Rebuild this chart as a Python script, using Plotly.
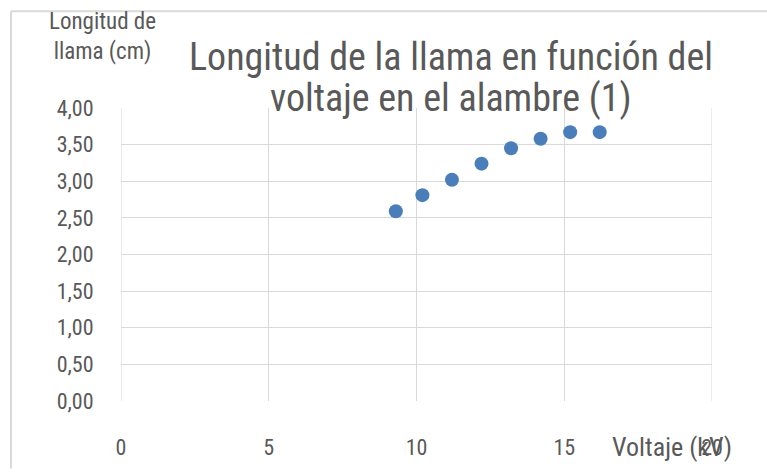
import plotly.graph_objects as go

# Flame length measured against the wire voltage
voltaje_kv = [9.3, 10.2, 11.2, 12.2, 13.2, 14.2, 15.2, 16.2]
longitud_cm = [2.59, 2.81, 3.02, 3.24, 3.45, 3.58, 3.67, 3.67]

x_ticks = [0, 5, 10, 15, 20]
y_ticks = [0, 0.5, 1.0, 1.5, 2.0, 2.5, 3.0, 3.5, 4.0]

title_lines = ["Longitud de la llama en función del", "voltaje en el alambre (1)"]

FONT = "Roboto Condensed"
TEXT = "#595959"
GRID = "#d9d9d9"
CLEAR = "rgba(0,0,0,0)"

# plot-area geometry in pixels
W, H = 767, 472
L, R, T, B = 121, 55, 108, 64
PW, PH = W - L - R, H - T - B


def px(xp):
    return (xp - L) / PW


def py(yp):
    return (H - B - yp) / PH


fig = go.Figure(
    go.Scatter(
        x=voltaje_kv,
        y=longitud_cm,
        mode="markers",
        marker=dict(size=14, color="#4a7ebb"),
        showlegend=False,
    )
)

fig.update_layout(
    width=W,
    height=H,
    margin=dict(l=L, r=R, t=T, b=B),
    paper_bgcolor="white",
    plot_bgcolor="white",
    separators=",.",
    font=dict(family=FONT, color=TEXT),
)

fig.update_xaxes(
    range=[0, 20],
    tickvals=x_ticks,
    showgrid=True,
    gridcolor=GRID,
    gridwidth=1,
    zeroline=False,
    showline=False,
    ticks="outside",
    ticklen=27,
    tickcolor=CLEAR,
    tickfont=dict(size=22, color=TEXT),
)
fig.update_yaxes(
    range=[0, 4],
    tickvals=y_ticks,
    tickformat=".2f",
    showgrid=True,
    gridcolor=GRID,
    gridwidth=1,
    zeroline=False,
    showline=False,
    ticks="outside",
    ticklen=22,
    tickcolor=CLEAR,
    tickfont=dict(size=22, color=TEXT),
)

# plot-area frame on the left and right edges
fig.add_shape(type="line", xref="x", yref="paper", x0=0, x1=0, y0=0, y1=1,
              line=dict(color=GRID, width=1))
fig.add_shape(type="line", xref="x", yref="paper", x0=20, x1=20, y0=0, y1=1,
              line=dict(color=GRID, width=1))

# outer chart border (top and left edges)
fig.add_shape(type="line", xref="paper", yref="paper",
              x0=px(11), x1=px(W + 5), y0=py(9), y1=py(9),
              line=dict(color=GRID, width=2))
fig.add_shape(type="line", xref="paper", yref="paper",
              x0=px(11), x1=px(11), y0=py(H + 5), y1=py(9),
              line=dict(color=GRID, width=2))

for line, yc in zip(title_lines, [56, 98]):
    fig.add_annotation(
        text=line,
        xref="paper", yref="paper",
        x=px(451), y=py(yc),
        xanchor="center", yanchor="middle",
        showarrow=False,
        font=dict(size=38, color=TEXT, family=FONT),
    )
fig.add_annotation(
    text="Longitud de<br>llama (cm)",
    xref="paper", yref="paper",
    x=px(102), y=py(35),
    xanchor="center", yanchor="middle",
    showarrow=False,
    font=dict(size=23, color=TEXT, family=FONT),
)
fig.add_annotation(
    text="Voltaje (kV)",
    xref="paper", yref="paper",
    x=px(672), y=py(455),
    xanchor="center", yanchor="middle",
    showarrow=False,
    font=dict(size=26, color=TEXT, family=FONT),
)

fig.write_html("out.html")
